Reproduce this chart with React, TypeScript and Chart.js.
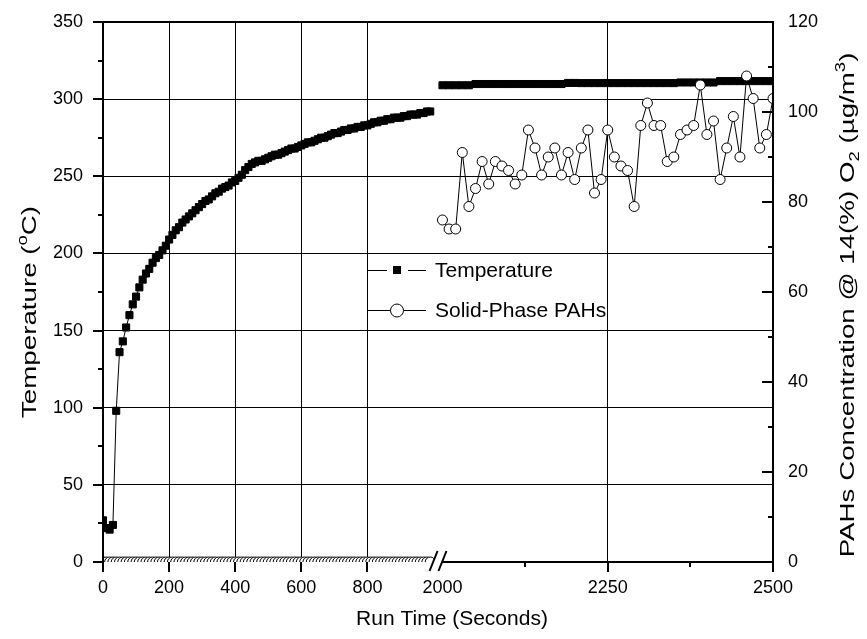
import React, { useEffect, useRef } from "react";
import { Chart, registerables } from "chart.js";

Chart.register(...registerables);

const FONT = "'Liberation Sans', Arial, Helvetica, sans-serif";

// ---- Segment A (0–1000 s) ----
const timeA = [
  0, 10, 20, 30, 40, 50, 60, 70, 80, 90,
  100, 110, 120, 130, 140, 150, 160, 170, 180, 190,
  200, 210, 220, 230, 240, 250, 260, 270, 280, 290,
  300, 310, 320, 330, 340, 350, 360, 370, 380, 390,
  400, 410, 420, 430, 440, 450, 460, 470, 480, 490,
  500, 510, 520, 530, 540, 550, 560, 570, 580, 590,
  600, 610, 620, 630, 640, 650, 660, 670, 680, 690,
  700, 710, 720, 730, 740, 750, 760, 770, 780, 790,
  800, 810, 820, 830, 840, 850, 860, 870, 880, 890,
  900, 910, 920, 930, 940, 950, 960, 970, 980, 990,
];
const temperatureA = [
  27, 22, 21, 24, 98, 136, 143, 152, 160, 167,
  172, 178, 183, 187, 190, 194, 197, 199, 202, 205,
  209, 212, 215, 217, 220, 222, 224, 226, 228, 230,
  232, 234, 235, 237, 239, 240, 242, 243, 244, 246,
  247, 249, 251, 254, 256, 258, 259, 260, 260, 261,
  262, 263, 264, 264, 265, 266, 267, 268, 268, 269,
  270, 271, 272, 272, 273, 274, 275, 275, 276, 277,
  278, 278, 279, 280, 280, 281, 281, 282, 282, 283,
  283, 284, 285, 285, 286, 286, 287, 287, 288, 288,
  288, 289, 289, 290, 290, 290, 291, 291, 292, 292,
];
const pahA = [
  0, 0, 0, 0, 0, 0, 0, 0, 0, 0,
  0, 0, 0, 0, 0, 0, 0, 0, 0, 0,
  0, 0, 0, 0, 0, 0, 0, 0, 0, 0,
  0, 0, 0, 0, 0, 0, 0, 0, 0, 0,
  0, 0, 0, 0, 0, 0, 0, 0, 0, 0,
  0, 0, 0, 0, 0, 0, 0, 0, 0, 0,
  0, 0, 0, 0, 0, 0, 0, 0, 0, 0,
  0, 0, 0, 0, 0, 0, 0, 0, 0, 0,
  0, 0, 0, 0, 0, 0, 0, 0, 0, 0,
  0, 0, 0, 0, 0, 0, 0, 0, 0, 0,
];

// ---- Segment B (2000–2500 s) ----
const timeB = [
  2000, 2010, 2020, 2030, 2040, 2050, 2060, 2070, 2080, 2090,
  2100, 2110, 2120, 2130, 2140, 2150, 2160, 2170, 2180, 2190,
  2200, 2210, 2220, 2230, 2240, 2250, 2260, 2270, 2280, 2290,
  2300, 2310, 2320, 2330, 2340, 2350, 2360, 2370, 2380, 2390,
  2400, 2410, 2420, 2430, 2440, 2450, 2460, 2470, 2480, 2490,
  2500,
];
const temperatureB = [
  309, 309, 309, 309, 309, 309.8, 309.8, 309.8, 309.8, 309.8,
  309.8, 309.8, 309.8, 309.8, 309.8, 309.8, 309.8, 309.8, 309.8, 310.5,
  310.5, 310.4, 310.4, 310.4, 310.4, 310.4, 310.4, 310.4, 310.4, 310.4,
  310.4, 310.4, 310.4, 310.4, 310.4, 310.4, 310.8, 310.8, 310.8, 310.8,
  310.8, 310.8, 311.7, 311.7, 311.7, 311.7, 311.7, 311.7, 311.7, 311.7,
  311.7,
];
const pahB = [
  76, 74, 74, 91, 79, 83, 89, 84, 89, 88,
  87, 84, 86, 96, 92, 86, 90, 92, 86, 91,
  85, 92, 96, 82, 85, 96, 90, 88, 87, 79,
  97, 102, 97, 97, 89, 90, 95, 96, 97, 106,
  95, 98, 85, 92, 99, 90, 108, 103, 92, 95,
  103,
];

// ---- Axes ----
const xTickValues = [0, 200, 400, 600, 800, 2000, 2250, 2500];
const xGridValues = [200, 400, 600, 800, 2250];
const xMajorMarks = [0, 200, 400, 600, 800, 2250, 2500];
const xMinorMarks = [2125, 2375];
const tempMajor = [0, 50, 100, 150, 200, 250, 300, 350];
const tempMinor = [25, 75, 125, 175, 225, 275, 325];
const pahMajor = [0, 20, 40, 60, 80, 100, 120];
const pahMinor = [10, 30, 50, 70, 90, 110];

// broken-axis mapping: 0..1000 at unit scale, gap, 2000..2500 at double scale
const SEG_A_END = 1000;
const SEG_B_START = 2000;
const GAP = 27;
const SEG_B_FACTOR = 2;
const toAxis = (t: number) =>
  t <= SEG_A_END ? t : SEG_A_END + GAP + (t - SEG_B_START) * SEG_B_FACTOR;
const fromAxis = (v: number) =>
  v <= SEG_A_END ? v : SEG_B_START + (v - SEG_A_END - GAP) / SEG_B_FACTOR;
const X_MAX = toAxis(2500);

type Part = { text: string; size: number; dy: number };

function drawRich(
  ctx: CanvasRenderingContext2D,
  parts: Part[],
  cx: number,
  cy: number,
  rotate: boolean,
  stretch: number,
  base: number
) {
  ctx.save();
  ctx.translate(cx, cy);
  if (rotate) ctx.rotate(-Math.PI / 2);
  ctx.scale(stretch, 1);
  ctx.fillStyle = "#000";
  ctx.textAlign = "left";
  ctx.textBaseline = "alphabetic";
  const widths = parts.map((p) => {
    ctx.font = `${p.size}px ${FONT}`;
    return ctx.measureText(p.text).width;
  });
  const total = widths.reduce((a, b) => a + b, 0);
  let x = -total / 2;
  const baseline = base * 0.36;
  parts.forEach((p, i) => {
    ctx.font = `${p.size}px ${FONT}`;
    ctx.fillText(p.text, x, baseline + p.dy);
    x += widths[i];
  });
  ctx.restore();
}

const decorPlugin = {
  id: "decor",
  afterDatasetsDraw(chart: any) {
    const ctx: CanvasRenderingContext2D = chart.ctx;
    const { left, right, top, bottom } = chart.chartArea;
    const xs = chart.scales.x;
    const ys = chart.scales.y;
    const y2s = chart.scales.y2;
    const line = (x1: number, y1: number, x2: number, y2: number) => {
      ctx.beginPath();
      ctx.moveTo(x1, y1);
      ctx.lineTo(x2, y2);
      ctx.stroke();
    };
    ctx.save();
    ctx.strokeStyle = "#000";
    ctx.lineWidth = 2;
    ctx.lineCap = "butt";
    // frame
    line(left - 1, top, right + 1, top);
    line(left, top, left, bottom + 1);
    line(right, top, right, bottom + 1);
    const xb = xs.getPixelForValue(toAxis(SEG_B_START));
    line(xb, bottom, right + 1, bottom);
    // left ticks (outward)
    tempMajor.forEach((v) => {
      const p = Math.round(ys.getPixelForValue(v));
      line(left - 10, p, left, p);
    });
    tempMinor.forEach((v) => {
      const p = Math.round(ys.getPixelForValue(v));
      line(left - 5, p, left, p);
    });
    // right ticks (inward)
    pahMajor.forEach((v) => {
      const p = Math.round(y2s.getPixelForValue(v));
      line(right - 11, p, right, p);
    });
    pahMinor.forEach((v) => {
      const p = Math.round(y2s.getPixelForValue(v));
      line(right - 5, p, right, p);
    });
    // bottom ticks
    xMajorMarks.forEach((v) => {
      const p = Math.round(xs.getPixelForValue(toAxis(v)));
      line(p, bottom, p, bottom + 10);
    });
    xMinorMarks.forEach((v) => {
      const p = Math.round(xs.getPixelForValue(toAxis(v)));
      line(p, bottom, p, bottom + 5);
    });
    // axis break marks
    const xa = xs.getPixelForValue(toAxis(SEG_A_END));
    ctx.fillStyle = "#fff";
    ctx.beginPath();
    ctx.moveTo(xa - 4, bottom + 9);
    ctx.lineTo(xa + 4, bottom - 11);
    ctx.lineTo(xb + 4, bottom - 11);
    ctx.lineTo(xb - 4, bottom + 9);
    ctx.closePath();
    ctx.fill();
    line(xa - 4, bottom + 9, xa + 4, bottom - 11);
    line(xb - 4, bottom + 9, xb + 4, bottom - 11);

    // legend
    ctx.lineWidth = 1;
    const lx = 368;
    const ly1 = 270;
    const ly2 = 310;
    line(lx, ly1 + 0.5, lx + 19, ly1 + 0.5);
    line(lx + 40, ly1 + 0.5, lx + 58, ly1 + 0.5);
    ctx.fillStyle = "#000";
    ctx.fillRect(lx + 25, ly1 - 4, 8, 8);
    line(lx, ly2 + 0.5, lx + 58, ly2 + 0.5);
    ctx.beginPath();
    ctx.arc(lx + 29, ly2 + 0.5, 6.5, 0, Math.PI * 2);
    ctx.fillStyle = "#fff";
    ctx.fill();
    ctx.stroke();
    ctx.fillStyle = "#000";
    ctx.font = `21px ${FONT}`;
    ctx.textAlign = "left";
    ctx.textBaseline = "middle";
    ctx.fillText("Temperature", 435, ly1 + 1);
    ctx.fillText("Solid-Phase PAHs", 435, ly2 + 1);

    // axis titles
    drawRich(ctx, [{ text: "Run Time (Seconds)", size: 21, dy: 0 }], 452, 617, false, 1, 21);
    drawRich(
      ctx,
      [
        { text: "Temperature (", size: 21, dy: 0 },
        { text: "o", size: 14, dy: -9 },
        { text: "C)", size: 21, dy: 0 },
      ],
      28,
      312,
      true,
      1.32,
      21
    );
    drawRich(
      ctx,
      [
        { text: "PAHs Concentration @ 14(%) O", size: 21, dy: 0 },
        { text: "2", size: 14, dy: 5 },
        { text: " (\u00b5g/m", size: 21, dy: 0 },
        { text: "3", size: 14, dy: -9 },
        { text: ")", size: 21, dy: 0 },
      ],
      846,
      305,
      true,
      1.32,
      21
    );
    ctx.restore();
  },
};

export default function App() {
  const ref = useRef<HTMLCanvasElement | null>(null);
  useEffect(() => {
    if (!ref.current) return;
    const xy = (ts: number[], vs: number[]) => ts.map((t, i) => ({ x: toAxis(t), y: vs[i] }));
    const pahStyle = {
      borderColor: "#000",
      borderWidth: 1,
      pointStyle: "circle",
      pointRadius: 5,
      pointBackgroundColor: "#fff",
      pointBorderColor: "#000",
      pointBorderWidth: 1,
      yAxisID: "y2",
    };
    const tempStyle = {
      borderColor: "#000",
      borderWidth: 1,
      pointStyle: "rect",
      pointRadius: 5,
      pointBackgroundColor: "#000",
      pointBorderColor: "#000",
      pointBorderWidth: 1,
      yAxisID: "y",
    };
    const gridX = xGridValues.map(toAxis);
    const clear = "rgba(0,0,0,0)";
    const chart = new Chart(ref.current, {
      type: "line",
      data: {
        datasets: [
          { label: "Solid-Phase PAHs", data: xy(timeA, pahA), ...pahStyle } as any,
          { label: "Solid-Phase PAHs", data: xy(timeB, pahB), ...pahStyle } as any,
          { label: "Temperature", data: xy(timeA, temperatureA), ...tempStyle } as any,
          { label: "Temperature", data: xy(timeB, temperatureB), ...tempStyle } as any,
        ],
      },
      options: {
        animation: false,
        responsive: false,
        devicePixelRatio: 1,
        layout: { padding: { top: 22, left: 0, right: 0, bottom: 0 } },
        plugins: { legend: { display: false }, tooltip: { enabled: false } },
        scales: {
          x: {
            type: "linear",
            min: 0,
            max: X_MAX,
            afterBuildTicks: (s: any) => {
              s.ticks = xTickValues.map((v) => ({ value: toAxis(v) }));
            },
            afterFit: (s: any) => {
              s.height = 77;
            },
            ticks: {
              autoSkip: false,
              maxRotation: 0,
              padding: 15,
              color: "#000",
              font: { size: 18, family: FONT },
              callback: (v: any) => String(Math.round(fromAxis(Number(v)))),
            },
            grid: {
              drawTicks: false,
              lineWidth: 1,
              color: (c: any) =>
                c.tick && gridX.some((g) => Math.abs(g - c.tick.value) < 0.01) ? "#000" : clear,
            },
            border: { display: false },
          },
          y: {
            position: "left",
            min: 0,
            max: 350,
            afterFit: (s: any) => {
              s.width = 103;
            },
            ticks: { stepSize: 50, padding: 0, color: "#000", font: { size: 18, family: FONT } },
            grid: {
              drawTicks: true,
              tickLength: 20,
              tickColor: clear,
              lineWidth: 1,
              color: (c: any) =>
                c.tick && c.tick.value > 0 && c.tick.value < 350 ? "#000" : clear,
            },
            border: { display: false },
          },
          y2: {
            position: "right",
            min: 0,
            max: 120,
            afterFit: (s: any) => {
              s.width = 94;
            },
            ticks: { stepSize: 20, padding: 0, color: "#000", font: { size: 18, family: FONT } },
            grid: {
              display: true,
              drawOnChartArea: false,
              drawTicks: true,
              tickLength: 15,
              tickColor: clear,
              color: clear,
            },
            border: { display: false },
          },
        },
      } as any,
      plugins: [decorPlugin],
    });
    return () => chart.destroy();
  }, []);
  return (
    <div style={{ position: "absolute", left: 0, top: 0, width: 867, height: 639, background: "#fff" }}>
      <canvas ref={ref} width={867} height={639} />
    </div>
  );
}
